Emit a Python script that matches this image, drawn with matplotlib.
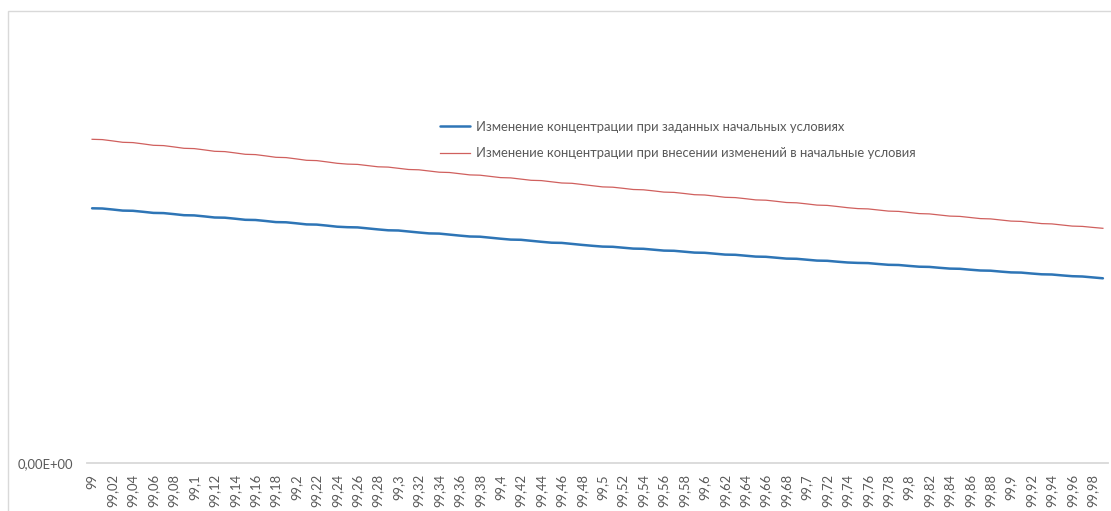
import matplotlib
matplotlib.use("Agg")
import matplotlib.pyplot as plt
from matplotlib.patches import Rectangle

# Categories: 99, 99.01, ..., 99.99
categories = [f"{99 + k / 100:.2f}".rstrip("0").rstrip(".").replace(".", ",") for k in range(100)]

series_names = [
    "Изменение концентрации при заданных начальных условиях",
    "Изменение концентрации при внесении изменений в начальные условия",
]

blue_values = [
    254.7, 254.5, 253.5, 252.4, 252.2, 251.2, 250.1, 249.9, 248.9, 247.8,
    247.6, 246.6, 245.5, 245.3, 244.3, 243.2, 243.0, 242.0, 240.9, 240.7,
    239.7, 238.6, 238.4, 237.4, 236.3, 235.8, 235.6, 234.6, 233.6, 232.7,
    232.5, 231.5, 230.5, 229.6, 229.4, 228.4, 227.4, 226.5, 226.3, 225.3,
    224.3, 223.4, 223.2, 222.2, 221.2, 220.3, 220.1, 219.1, 218.1, 217.2,
    216.4, 216.2, 215.3, 214.4, 214.2, 213.3, 212.4, 212.2, 211.3, 210.4,
    210.2, 209.3, 208.4, 208.2, 207.3, 206.4, 206.2, 205.3, 204.4, 204.2,
    203.3, 202.4, 202.2, 201.3, 200.5, 200.1, 199.9, 199.0, 198.2, 198.0,
    197.1, 196.3, 196.1, 195.2, 194.4, 194.2, 193.3, 192.5, 192.3, 191.4,
    190.6, 190.4, 189.5, 188.7, 188.5, 187.6, 186.8, 186.5, 185.6, 184.7,
]

red_values = [
    323.7, 323.4, 322.1, 320.7, 320.4, 319.1, 317.7, 317.4, 316.1, 314.7,
    314.4, 313.1, 311.7, 311.4, 310.1, 308.7, 308.4, 307.1, 305.7, 305.4,
    304.1, 302.7, 302.4, 301.1, 299.7, 298.9, 298.6, 297.4, 296.2, 295.9,
    294.7, 293.5, 293.2, 292.0, 290.8, 290.5, 289.3, 288.1, 287.8, 286.6,
    285.4, 285.1, 283.9, 282.7, 282.4, 281.2, 280.0, 279.7, 278.5, 277.3,
    276.1, 275.8, 274.7, 273.5, 273.2, 272.1, 270.9, 270.6, 269.5, 268.3,
    268.0, 266.9, 265.7, 265.4, 264.3, 263.1, 262.8, 261.7, 260.5, 260.2,
    259.1, 257.9, 257.6, 256.5, 255.3, 254.4, 254.1, 253.0, 251.9, 251.6,
    250.5, 249.4, 249.1, 248.0, 246.9, 246.6, 245.5, 244.4, 244.1, 243.0,
    241.9, 241.6, 240.5, 239.4, 239.1, 238.0, 236.9, 236.6, 235.6, 234.7,
]

y_tick_values = [0]
y_tick_labels = ["0,00E+00"]

plt.rcParams['font.family'] = ['Lato', 'DejaVu Sans']
text_color = "#595959"
fs = 9.4

fig = plt.figure(figsize=(11.11, 5.11), dpi=100)
ax = fig.add_axes([87 / 1111, (511 - 463) / 511, 1021 / 1111, 438 / 511])

x = list(range(len(categories)))
ax.plot(x, blue_values, color="#2E75B6", lw=1.8, label=series_names[0], solid_capstyle="round")
ax.plot(x, red_values, color="#D0605E", lw=0.9, label=series_names[1])

ax.set_xlim(-0.5, len(categories) - 0.5)
ax.set_ylim(0, 438)

ax.set_xticks(x[::2])
ax.set_xticklabels(categories[::2], rotation=90, fontsize=fs, color=text_color)
ax.set_yticks(y_tick_values)
ax.set_yticklabels(y_tick_labels, fontsize=fs, color=text_color)
ax.tick_params(axis="both", length=0)
ax.tick_params(axis="x", pad=8)
ax.tick_params(axis="y", pad=10)

for s in ["top", "right", "left"]:
    ax.spines[s].set_visible(False)
ax.spines["bottom"].set_color("#d9d9d9")
ax.spines["bottom"].set_linewidth(1.3)

leg = fig.legend(loc="upper left", bbox_to_anchor=(440 / 1111, (511 - 121) / 511),
                 frameon=False, fontsize=fs, handlelength=2.3, handletextpad=0.46,
                 labelspacing=1.1, borderaxespad=0, borderpad=0)
for t in leg.get_texts():
    t.set_color(text_color)

fig.patches.append(Rectangle((8 / 1111, -0.2), 1.2, (511 - 11) / 511 + 0.2,
                             transform=fig.transFigure, fill=False,
                             edgecolor="#d9d9d9", lw=1.0))

fig.savefig("out.png", dpi=100, facecolor="white")
